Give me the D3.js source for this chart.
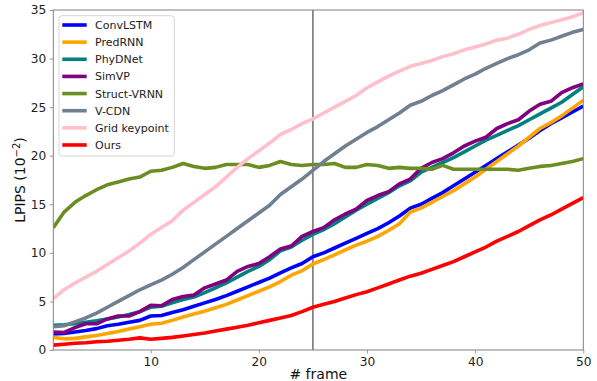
<!DOCTYPE html>
<html>
<head>
<meta charset="utf-8">
<script src="https://cdn.jsdelivr.net/npm/d3@7"></script>
<style>
  body { margin: 0; background: #fff; }
  text { font-family: "DejaVu Sans", sans-serif; }
</style>
</head>
<body>
<div id="chart"></div>
<script>
const frames = d3.range(1, 51);

const convlstm = [1.65, 1.7, 1.85, 2.0, 2.2, 2.5, 2.65, 2.85, 3.05, 3.5,
    3.55, 3.85, 4.15, 4.5, 4.85, 5.2, 5.6, 6.05, 6.5, 6.95,
    7.4, 7.95, 8.45, 8.9, 9.6, 10.0, 10.5, 11.0, 11.5, 12.0,
    12.5, 13.1, 13.8, 14.6, 15.0, 15.6, 16.2, 16.9, 17.6, 18.3,
    19.0, 19.7, 20.4, 21.1, 21.8, 22.6, 23.3, 23.9, 24.5, 25.1];
const predrnn = [1.3, 1.15, 1.2, 1.35, 1.5, 1.7, 1.9, 2.15, 2.4, 2.65,
    2.75, 3.05, 3.4, 3.7, 4.0, 4.35, 4.7, 5.15, 5.6, 6.05,
    6.5, 7.05, 7.7, 8.15, 8.85, 9.3, 9.8, 10.3, 10.8, 11.2,
    11.7, 12.3, 13.0, 14.2, 14.6, 15.2, 15.8, 16.4, 17.1, 17.8,
    18.6, 19.4, 20.2, 21.0, 21.9, 22.8, 23.4, 24.1, 24.9, 25.7];
const phydnet = [2.55, 2.6, 2.7, 2.85, 3.0, 3.2, 3.4, 3.65, 3.95, 4.4,
    4.5, 4.85, 5.2, 5.45, 5.9, 6.4, 6.9, 7.5, 8.1, 8.6,
    9.3, 10.2, 10.6, 11.3, 11.9, 12.4, 13.0, 13.7, 14.4, 15.0,
    15.6, 16.2, 16.9, 17.4, 18.3, 18.8, 19.3, 19.8, 20.4, 21.0,
    21.6, 22.1, 22.6, 23.1, 23.7, 24.3, 24.9, 25.5, 26.3, 27.1];
const simvp = [1.85, 1.8, 2.3, 2.7, 2.7, 3.2, 3.5, 3.5, 3.95, 4.6,
    4.55, 5.2, 5.5, 5.65, 6.4, 6.8, 7.2, 8.1, 8.6, 8.9,
    9.6, 10.4, 10.7, 11.7, 12.2, 12.6, 13.4, 14.0, 14.5, 15.4,
    15.9, 16.3, 17.1, 17.6, 18.7, 19.3, 19.7, 20.3, 21.0, 21.5,
    21.9, 22.8, 23.3, 23.7, 24.6, 25.3, 25.6, 26.5, 27.0, 27.4];
const structvrnn = [12.6, 14.2, 15.2, 15.9, 16.5, 17.0, 17.3, 17.6, 17.8, 18.4,
    18.5, 18.8, 19.2, 18.9, 18.7, 18.8, 19.1, 19.1, 19.1, 18.8,
    19.0, 19.4, 19.1, 19.0, 19.1, 19.1, 19.2, 18.8, 18.8, 19.1,
    19.0, 18.7, 18.8, 18.7, 18.7, 18.6, 19.0, 18.6, 18.6, 18.6,
    18.6, 18.6, 18.6, 18.5, 18.7, 18.9, 19.0, 19.2, 19.4, 19.7];
const vcdn = [2.4, 2.5, 2.9, 3.3, 3.8, 4.4, 5.0, 5.6, 6.2, 6.7,
    7.2, 7.8, 8.5, 9.3, 10.1, 10.9, 11.7, 12.5, 13.3, 14.1,
    14.9, 16.0, 16.8, 17.6, 18.5, 19.4, 20.2, 21.0, 21.7, 22.4,
    23.0, 23.7, 24.4, 25.2, 25.6, 26.2, 26.7, 27.3, 27.9, 28.4,
    29.0, 29.5, 30.0, 30.4, 30.9, 31.6, 31.9, 32.3, 32.7, 33.0];
const gridkeypoint = [5.3, 6.2, 6.9, 7.5, 8.1, 8.8, 9.5, 10.2, 11.0, 11.9,
    12.6, 13.3, 14.4, 15.2, 16.0, 16.8, 17.8, 18.8, 19.7, 20.5,
    21.3, 22.2, 22.7, 23.3, 23.8, 24.4, 25.0, 25.6, 26.2, 27.0,
    27.6, 28.2, 28.7, 29.2, 29.5, 29.8, 30.2, 30.5, 30.9, 31.2,
    31.5, 31.9, 32.1, 32.5, 33.0, 33.4, 33.7, 34.0, 34.3, 34.7];
const ours = [0.5, 0.6, 0.7, 0.75, 0.85, 0.9, 1.0, 1.1, 1.25, 1.1,
    1.2, 1.3, 1.45, 1.6, 1.75, 1.95, 2.15, 2.35, 2.55, 2.8,
    3.05, 3.3, 3.55, 3.95, 4.4, 4.7, 5.0, 5.35, 5.7, 6.0,
    6.4, 6.8, 7.2, 7.6, 7.9, 8.3, 8.7, 9.1, 9.6, 10.1,
    10.6, 11.2, 11.7, 12.2, 12.8, 13.4, 13.9, 14.5, 15.1, 15.7];

const seriesNames = ["ConvLSTM", "PredRNN", "PhyDNet", "SimVP", "Struct-VRNN", "V-CDN", "Grid keypoint", "Ours"];
const seriesValues = [convlstm, predrnn, phydnet, simvp, structvrnn, vcdn, gridkeypoint, ours];
const seriesColors = ["#0000ff", "#ffa500", "#008080", "#800080", "#6b8e23", "#708090", "#ffc0cb", "#ff0000"];

const xTicks = [10, 20, 30, 40, 50];
const yTicks = [0, 5, 10, 15, 20, 25, 30, 35];
const markerFrame = 25;

const width = 597, height = 381;
const margin = {top: 10, right: 13.7, bottom: 31, left: 53.3};

const svg = d3.select("#chart").append("svg")
    .attr("width", width)
    .attr("height", height);

const x = d3.scaleLinear().domain([1, 50]).range([margin.left, width - margin.right]);
const y = d3.scaleLinear().domain([0, 35]).range([height - margin.bottom, margin.top]);

const spine = "#808080";

// vertical marker at frame 25
svg.append("line")
    .attr("x1", x(markerFrame)).attr("x2", x(markerFrame))
    .attr("y1", y(0)).attr("y2", y(35))
    .attr("stroke", "#6e6e6e")
    .attr("stroke-width", 1.5);

svg.append("clipPath").attr("id", "clip")
    .append("rect")
    .attr("x", x(1)).attr("y", y(35))
    .attr("width", x(50) - x(1)).attr("height", y(0) - y(35));

const line = d3.line()
    .x((d, i) => x(frames[i]))
    .y(d => y(d));

svg.append("g").attr("clip-path", "url(#clip)")
    .selectAll("path")
    .data(seriesValues)
    .enter()
    .append("path")
    .attr("d", d => line(d))
    .attr("fill", "none")
    .attr("stroke", (d, i) => seriesColors[i])
    .attr("stroke-width", 3.6)
    .attr("stroke-linejoin", "round");

// axes
const xAxis = svg.append("g")
    .attr("transform", `translate(0,${y(0)})`)
    .call(d3.axisBottom(x).tickValues(xTicks).tickSize(3.5).tickPadding(3.5));
const yAxis = svg.append("g")
    .attr("transform", `translate(${x(1)},0)`)
    .call(d3.axisLeft(y).tickValues(yTicks).tickSize(3.5).tickPadding(3.5));

[xAxis, yAxis].forEach(a => {
    a.select(".domain").remove();
    a.selectAll(".tick line").attr("stroke", spine).attr("stroke-width", 0.8);
    a.selectAll(".tick text")
        .attr("fill", "#222")
        .style("font-size", "12.2px")
        .style("font-family", "DejaVu Sans, sans-serif");
});

// frame
svg.append("rect")
    .attr("x", x(1)).attr("y", y(35))
    .attr("width", x(50) - x(1)).attr("height", y(0) - y(35))
    .attr("fill", "none")
    .attr("stroke", spine)
    .attr("stroke-width", 1);

// axis labels
svg.append("text")
    .attr("x", (x(1) + x(50)) / 2)
    .attr("y", 378.5)
    .attr("text-anchor", "middle")
    .attr("fill", "#111")
    .style("font-size", "14px")
    .text("# frame");

const yl = svg.append("text")
    .attr("transform", `translate(25,${(y(0) + y(35)) / 2}) rotate(-90)`)
    .attr("text-anchor", "middle")
    .attr("fill", "#111")
    .style("font-size", "14px");
yl.append("tspan").text("LPIPS (10");
yl.append("tspan").attr("dy", -5).style("font-size", "10px").text("\u22122");
yl.append("tspan").attr("dy", 5).text(")");

// legend
const legend = svg.append("g");
legend.append("rect")
    .attr("x", 59).attr("y", 15.7)
    .attr("width", 115.3).attr("height", 140.3)
    .attr("rx", 3)
    .attr("fill", "#fff").attr("fill-opacity", 0.8)
    .attr("stroke", "#d6d6d6");

const rows = legend.selectAll("g.item")
    .data(seriesNames)
    .enter()
    .append("g")
    .attr("class", "item")
    .attr("transform", (d, i) => `translate(0,${25 + i * 17.14})`);
rows.append("line")
    .attr("x1", 62.3).attr("x2", 86.7)
    .attr("stroke", (d, i) => seriesColors[i])
    .attr("stroke-width", 3.6);
rows.append("text")
    .attr("x", 95)
    .attr("dy", "0.36em")
    .attr("fill", "#222")
    .style("font-size", "11px")
    .text(d => d);
</script>
</body>
</html>
